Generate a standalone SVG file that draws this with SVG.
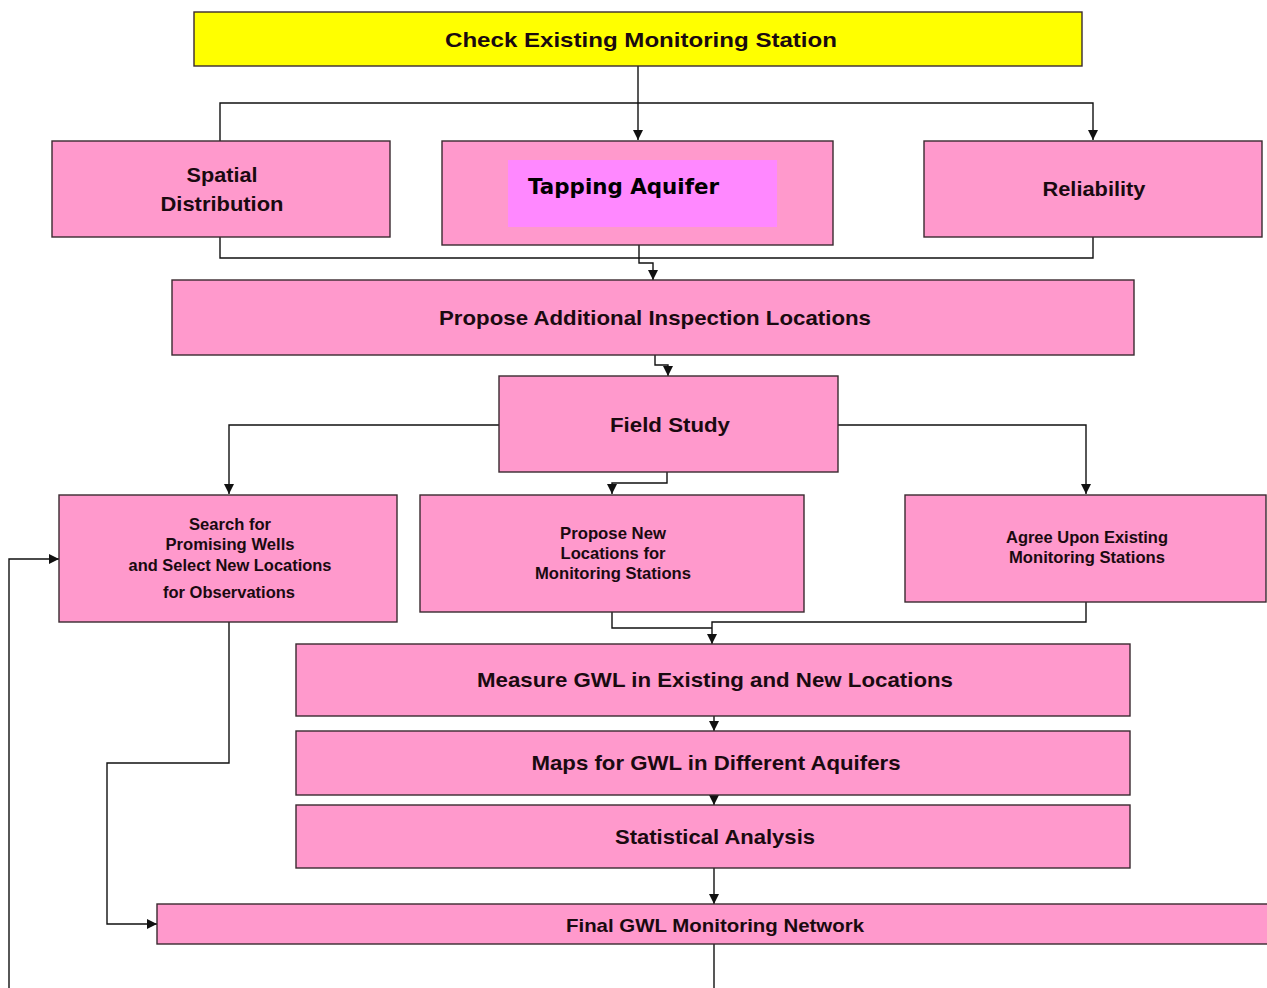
<svg xmlns="http://www.w3.org/2000/svg" width="1267" height="988" viewBox="0 0 1267 988">
<style>
.box{fill:#FF99CC;stroke:#3a2a30;stroke-width:1.4}
.t{font-family:"Liberation Sans",Arial,sans-serif;font-weight:bold;fill:#1a0a10;text-anchor:middle}
.l{font-size:21px}
.s{font-size:16.5px}
.c{fill:none;stroke:#111;stroke-width:1.4}
</style>
<defs>
<marker id="a" viewBox="0 0 10 10" refX="10" refY="5" markerWidth="10" markerHeight="10" markerUnits="userSpaceOnUse" orient="auto">
<path d="M0,0 L10,5 L0,10 z" fill="#111"/>
</marker>
</defs>
<rect width="1267" height="988" fill="#fff"/>
<g id="connectors">
<path class="c" d="M638,66 V140" marker-end="url(#a)"/>
<path class="c" d="M220,141 V103 H1093 V140" marker-end="url(#a)"/>
<path class="c" d="M220,237 V258 H1093 V237"/>
<path class="c" d="M639,245 V263 H653 V280" marker-end="url(#a)"/>
<path class="c" d="M655,355 V365 H668 V376" marker-end="url(#a)"/>
<path class="c" d="M499,425 H229 V494" marker-end="url(#a)"/>
<path class="c" d="M838,425 H1086 V494" marker-end="url(#a)"/>
<path class="c" d="M667,472 V483 H612 V494" marker-end="url(#a)"/>
<path class="c" d="M612,612 V628 H712"/>
<path class="c" d="M1086,602 V622 H712 V644" marker-end="url(#a)"/>
<path class="c" d="M714,716 V731" marker-end="url(#a)"/>
<path class="c" d="M714,795 V805" marker-end="url(#a)"/>
<path class="c" d="M714,868 V904" marker-end="url(#a)"/>
<path class="c" d="M714,944 V988"/>
<path class="c" d="M229,622 V763 H107 V924 H157" marker-end="url(#a)"/>
<path class="c" d="M9,988 V559 H59" marker-end="url(#a)"/>
</g>
<g id="check">
<rect x="194" y="12" width="888" height="54" fill="#FFFF00" stroke="#3a2a30" stroke-width="1.4"/>
<text class="t l" x="641" y="47" textLength="392" lengthAdjust="spacingAndGlyphs">Check Existing Monitoring Station</text>
</g>
<g id="spatial">
<rect class="box" x="52" y="141" width="338" height="96"/>
<text class="t l" x="222" y="182" textLength="71" lengthAdjust="spacingAndGlyphs">Spatial</text>
<text class="t l" x="222" y="211" textLength="123" lengthAdjust="spacingAndGlyphs">Distribution</text>
</g>
<g id="tapping">
<rect class="box" x="442" y="141" width="391" height="104"/>
<rect x="508" y="160" width="269" height="67" fill="#FF88FF"/>
<text x="528" y="194" font-family="DejaVu Sans,Verdana,sans-serif" font-weight="bold" font-size="22" fill="#000" textLength="191" lengthAdjust="spacingAndGlyphs">Tapping Aquifer</text>
</g>
<g id="reliability">
<rect class="box" x="924" y="141" width="338" height="96"/>
<text class="t l" x="1094" y="196" textLength="103" lengthAdjust="spacingAndGlyphs">Reliability</text>
</g>
<g id="propose">
<rect class="box" x="172" y="280" width="962" height="75"/>
<text class="t l" x="655" y="325" textLength="432" lengthAdjust="spacingAndGlyphs">Propose Additional Inspection Locations</text>
</g>
<g id="field">
<rect class="box" x="499" y="376" width="339" height="96"/>
<text class="t l" x="670" y="432" textLength="120" lengthAdjust="spacingAndGlyphs">Field Study</text>
</g>
<g id="search">
<rect class="box" x="59" y="495" width="338" height="127"/>
<text class="t s" x="230" y="530" textLength="82" lengthAdjust="spacingAndGlyphs">Search for</text>
<text class="t s" x="230" y="550" textLength="129" lengthAdjust="spacingAndGlyphs">Promising Wells</text>
<text class="t s" x="230" y="571" textLength="203" lengthAdjust="spacingAndGlyphs">and Select New Locations</text>
<text class="t s" x="229" y="598" textLength="132" lengthAdjust="spacingAndGlyphs">for Observations</text>
</g>
<g id="proposenew">
<rect class="box" x="420" y="495" width="384" height="117"/>
<text class="t s" x="613" y="539" textLength="106" lengthAdjust="spacingAndGlyphs">Propose New</text>
<text class="t s" x="613" y="559" textLength="105" lengthAdjust="spacingAndGlyphs">Locations for</text>
<text class="t s" x="613" y="579" textLength="156" lengthAdjust="spacingAndGlyphs">Monitoring Stations</text>
</g>
<g id="agree">
<rect class="box" x="905" y="495" width="361" height="107"/>
<text class="t s" x="1087" y="543" textLength="162" lengthAdjust="spacingAndGlyphs">Agree Upon Existing</text>
<text class="t s" x="1087" y="563" textLength="156" lengthAdjust="spacingAndGlyphs">Monitoring Stations</text>
</g>
<g id="measure">
<rect class="box" x="296" y="644" width="834" height="72"/>
<text class="t l" x="715" y="687" textLength="476" lengthAdjust="spacingAndGlyphs">Measure GWL in Existing and New Locations</text>
</g>
<g id="maps">
<rect class="box" x="296" y="731" width="834" height="64"/>
<text class="t l" x="716" y="770" textLength="369" lengthAdjust="spacingAndGlyphs">Maps for GWL in Different Aquifers</text>
</g>
<g id="stats">
<rect class="box" x="296" y="805" width="834" height="63"/>
<text class="t l" x="715" y="844" textLength="200" lengthAdjust="spacingAndGlyphs">Statistical Analysis</text>
</g>
<g id="final">
<rect class="box" x="157" y="904" width="1115" height="40"/>
<text class="t" font-size="19" x="715" y="932" textLength="298" lengthAdjust="spacingAndGlyphs">Final GWL Monitoring Network</text>
</g>
</svg>
